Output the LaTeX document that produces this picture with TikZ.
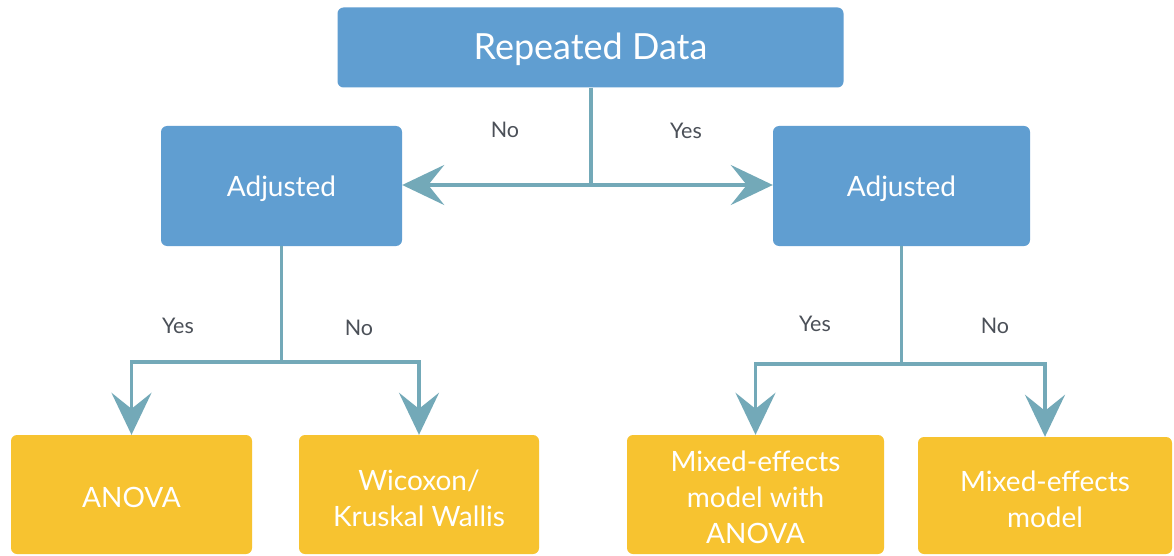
\documentclass[tikz,border=0pt]{standalone}
\usepackage{fontspec}
\setmainfont{Lato}
\usetikzlibrary{arrows.meta}
\definecolor{boxblue}{RGB}{96,158,209}
\definecolor{boxyellow}{RGB}{247,195,48}
\definecolor{conn}{RGB}{115,169,184}
\definecolor{lbl}{RGB}{75,80,88}
\tikzset{
  bluebox/.style={fill=boxblue, rounded corners=6pt, inner sep=0pt},
  yellowbox/.style={fill=boxyellow, rounded corners=6pt, inner sep=0pt},
  boxtext/.style={text=white, align=center, inner sep=0pt, font=\fontsize{28}{36}\selectfont},
  conline/.style={draw=conn, line width=3.3pt},
  arr/.style={conline, -{Stealth[length=42pt,width=40pt,inset=16pt]}},
  lab/.style={text=lbl, font=\fontsize{21.5}{25}\selectfont, inner sep=0pt}
}
\begin{document}
\begin{tikzpicture}[x=1pt,y=-1pt]
\useasboundingbox[fill=white] (0,0) rectangle (1174,556);
% boxes
\node[bluebox, minimum width=506pt, minimum height=80pt] (top) at (590.5,47.5) {};
\node[bluebox, minimum width=241pt, minimum height=120pt] (ladj) at (281.5,186) {};
\node[bluebox, minimum width=257pt, minimum height=120pt] (radj) at (901.5,186) {};
\node[yellowbox, minimum width=241pt, minimum height=119pt] (anova) at (131.5,494.5) {};
\node[yellowbox, minimum width=240pt, minimum height=119pt] (wil) at (419,494.5) {};
\node[yellowbox, minimum width=257pt, minimum height=119pt] (mixa) at (755.5,494.5) {};
\node[yellowbox, minimum width=254pt, minimum height=117pt] (mix) at (1045,495.5) {};
% box texts
\node[boxtext, font=\fontsize{36}{42}\selectfont, yshift=-2pt] (topT) at (top.center) {Repeated Data};
\node[boxtext, yshift=-3pt] (ladjT) at (ladj.center) {Adjusted};
\node[boxtext, yshift=-3pt] (radjT) at (radj.center) {Adjusted};
\node[boxtext, yshift=-3pt] (anovaT) at (anova.center) {ANOVA};
\node[boxtext, yshift=-3.5pt] (wilT) at (wil.center) {Wicoxon/\\Kruskal Wallis};
\node[boxtext, yshift=-3pt] (mixaT) at (mixa.center) {Mixed-effects\\model with\\ANOVA};
\node[boxtext, yshift=-4pt] (mixT) at (mix.center) {Mixed-effects\\model};
% connectors top
\coordinate (tj) at (591,185);
\draw[conline] (top.south -| tj) -- (tj);
\draw[arr] (tj) -- (ladj.east |- tj);
\draw[arr] (tj) -- (radj.west |- tj);
% left branch
\coordinate (lj) at (281.5,362);
\draw[conline] (ladj.south) -- (lj);
\draw[arr] (lj) -| (anova.north);
\draw[arr] (lj) -| (wil.north);
% right branch
\coordinate (rj) at (901.5,364);
\draw[conline] (radj.south) -- (rj);
\draw[arr] (rj) -| (mixa.north);
\draw[arr] (rj) -| (mix.north);
% labels
\node[lab] (l1) at (505,130) {No};
\node[lab] (l2) at (686,131) {Yes};
\node[lab] (l3) at (178,326) {Yes};
\node[lab] (l4) at (359,328) {No};
\node[lab] (l5) at (815,324) {Yes};
\node[lab] (l6) at (995,326) {No};
\end{tikzpicture}
\end{document}
